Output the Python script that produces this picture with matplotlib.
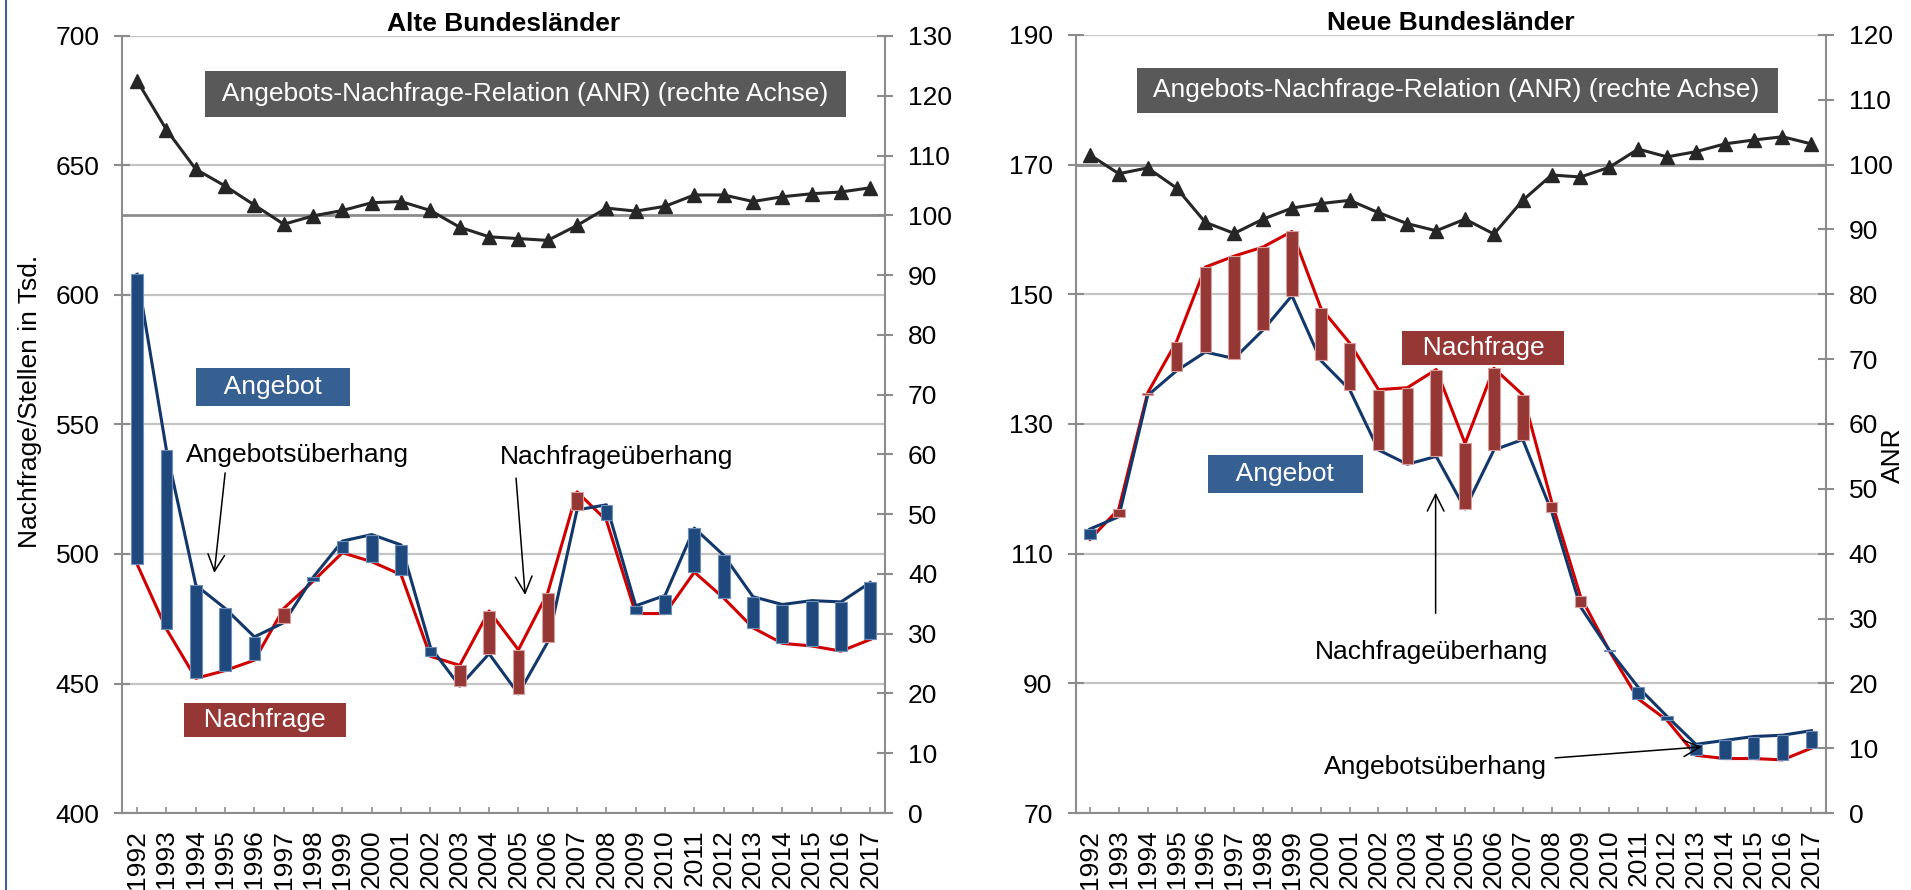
import matplotlib
matplotlib.use('Agg')
import matplotlib.pyplot as plt
from matplotlib.lines import Line2D

plt.rcParams['font.family'] = ['Liberation Sans', 'DejaVu Sans']

years = list(range(1992, 2018))

# Alte Bundeslaender (Tsd.)
angebot_alt = [608, 540, 488, 479, 468, 473.5, 491, 505, 507.5, 503.5, 464, 449, 461.5, 446,
               466, 517, 519, 480, 484, 510, 499.5, 483.5, 480.5, 482, 481.5, 489]
nachfrage_alt = [496, 471, 452, 455, 459, 479, 489.5, 500.5, 497, 492, 460.5, 457, 478, 463,
                 485, 524, 513, 477, 477, 493, 483, 471.5, 465.5, 464.5, 462.5, 467]
anr_alt = [122.5, 114.3, 107.7, 104.9, 101.7, 98.5, 99.9, 100.8, 102.1, 102.3, 100.8, 98.0, 96.4,
           96.1, 95.8, 98.3, 101.2, 100.7, 101.5, 103.4, 103.4, 102.3, 103.1, 103.6, 103.9, 104.6]

# Neue Bundeslaender (Tsd.)
angebot_neu = [113.8, 115.7, 134.4, 138.2, 141.1, 140.1, 144.5, 149.8, 139.8, 135.3, 126.0, 123.8,
               125.0, 116.9, 126.0, 127.6, 116.5, 101.8, 95.1, 89.4, 84.9, 80.6, 81.2, 81.8, 82.0, 82.7]
nachfrage_neu = [112.2, 116.9, 134.8, 142.7, 154.2, 155.9, 157.3, 159.7, 147.9, 142.5, 135.3, 135.6,
                 138.4, 127.0, 138.6, 134.5, 118.0, 103.4, 95.0, 87.6, 84.3, 78.9, 78.4, 78.4, 78.2, 80.0]
anr_neu = [101.5, 98.6, 99.5, 96.4, 91.1, 89.4, 91.6, 93.3, 94.0, 94.5, 92.6, 90.9, 89.8, 91.6,
           89.3, 94.5, 98.4, 98.1, 99.6, 102.4, 101.2, 102.0, 103.2, 103.8, 104.3, 103.2]

BLUE_LINE = '#12386B'
RED_LINE = '#D00000'
BLUE_BAR = '#1F497D'
RED_BAR = '#953735'
GRID = '#C4C4C4'
AXC = '#8C8C8C'
FS = 19

fig = plt.figure(figsize=(19.11, 8.90), dpi=100)
fig.patch.set_facecolor('white')
fig.add_artist(Line2D([6 / 1911, 6 / 1911], [0, 1], color='#41628C', lw=1.5))

ax_l = fig.add_axes([0.0641, 0.0865, 0.3990, 0.8731])
ax_r = fig.add_axes([0.5628, 0.0865, 0.3926, 0.8742])


def panel(ax, angebot, nachfrage, anr, ylim, ystep, anrmax, title):
    x = list(range(len(years)))
    ax.set_xlim(-0.5, len(years) - 0.5)
    ax.set_ylim(*ylim)
    ax.set_yticks(range(ylim[0], ylim[1] + 1, ystep))
    ax.set_xticks(x)
    ax.set_xticklabels([str(y) for y in years], rotation=90)
    ax.yaxis.grid(True, color=GRID, lw=1.6, zorder=0)
    ax.set_axisbelow(True)
    for s in ['top', 'right']:
        ax.spines[s].set_visible(False)
    for s in ['left', 'bottom']:
        ax.spines[s].set_color(AXC)
        ax.spines[s].set_linewidth(1.5)
    ax.tick_params(axis='y', direction='inout', length=11, width=1.5, color=AXC, pad=11, labelsize=FS)
    ax.tick_params(axis='x', direction='in', length=4, width=1.2, color=AXC, pad=12, labelsize=FS)

    ax.plot(x, nachfrage, color=RED_LINE, lw=2.2, zorder=3)
    ax.plot(x, angebot, color=BLUE_LINE, lw=2.2, zorder=3)
    lo = [min(a, n) for a, n in zip(angebot, nachfrage)]
    hi = [abs(a - n) for a, n in zip(angebot, nachfrage)]
    cols = [BLUE_BAR if a > n else RED_BAR for a, n in zip(angebot, nachfrage)]
    ecols = ['#6F8FB8' if a > n else '#D9A0A0' for a, n in zip(angebot, nachfrage)]
    ax.bar(x, hi, bottom=lo, width=0.4, color=cols, edgecolor=ecols, lw=0.8, zorder=4)

    ax2 = ax.twinx()
    ax2.set_ylim(0, anrmax)
    ax2.set_yticks(range(0, anrmax + 1, 10))
    for s in ['top', 'left', 'bottom']:
        ax2.spines[s].set_visible(False)
    ax2.spines['right'].set_color(AXC)
    ax2.spines['right'].set_linewidth(1.5)
    ax2.tick_params(axis='y', direction='inout', length=11, width=1.5, color=AXC, pad=11, labelsize=FS)
    ax2.axhline(100, color='#8C8C8C', lw=2, zorder=1)
    ax2.plot(x, anr, color='#262626', lw=2.2, marker='^', ms=9.5, zorder=5)

    ax.set_title(title, fontsize=FS, fontweight='bold', pad=2)
    return ax2


arrow = dict(arrowstyle='->,head_length=0.6,head_width=0.3', color='black', lw=1.1,
             mutation_scale=20, shrinkA=0, shrinkB=0)
box_anr = dict(boxstyle='square,pad=0.4', fc='#595959', ec='none')
box_ang = dict(boxstyle='square,pad=0.25', fc='#376092', ec='none')
box_nach = dict(boxstyle='square,pad=0.2', fc=RED_BAR, ec='none')
anr_txt = ' Angebots-Nachfrage-Relation (ANR) (rechte Achse) '

# left panel
ax2_l = panel(ax_l, angebot_alt, nachfrage_alt, anr_alt, (400, 700), 50, 130, 'Alte Bundesländer')
ax_l.set_ylabel('Nachfrage/Stellen in Tsd.', fontsize=FS)
ax_l.yaxis.set_label_coords(-0.106, 0.53)
ax_l.text(13.25, 677.6, anr_txt, color='white', fontsize=FS, ha='center', va='center', bbox=box_anr, zorder=6)
ax_l.text(4.64, 564.5, '   Angebot   ', color='white', fontsize=FS, ha='center', va='center', bbox=box_ang, zorder=6)
ax_l.text(4.36, 435.9, '  Nachfrage  ', color='white', fontsize=FS, ha='center', va='center', bbox=box_nach, zorder=6)
ax_l.text(5.45, 538.2, 'Angebotsüberhang', fontsize=FS, ha='center', va='center', zorder=6)
ax_l.annotate('', xy=(2.63, 492.7), xytext=(3.0, 531.3), arrowprops=arrow, zorder=6)
ax_l.text(16.35, 537.5, 'Nachfrageüberhang', fontsize=FS, ha='center', va='center', zorder=6)
ax_l.annotate('', xy=(13.23, 484.2), xytext=(12.92, 529.3), arrowprops=arrow, zorder=6)

# right panel
ax2_r = panel(ax_r, angebot_neu, nachfrage_neu, anr_neu, (70, 190), 20, 120, 'Neue Bundesländer')
ax2_r.set_ylabel('ANR', fontsize=FS)
ax2_r.yaxis.set_label_coords(1.073, 0.46)
ax_r.text(12.73, 181.5, anr_txt, color='white', fontsize=FS, ha='center', va='center', bbox=box_anr, zorder=6)
ax_r.text(6.78, 122.3, '   Angebot   ', color='white', fontsize=FS, ha='center', va='center', bbox=box_ang, zorder=6)
ax_r.text(13.63, 141.7, '  Nachfrage  ', color='white', fontsize=FS, ha='center', va='center', bbox=box_nach, zorder=6)
ax_r.text(11.84, 94.8, 'Nachfrageüberhang', fontsize=FS, ha='center', va='center', zorder=6)
ax_r.annotate('', xy=(11.98, 119.4), xytext=(11.98, 100.8), arrowprops=arrow, zorder=6)
ax_r.text(11.97, 77.1, 'Angebotsüberhang', fontsize=FS, ha='center', va='center', zorder=6)
ax_r.annotate('', xy=(21.2, 80.2), xytext=(16.12, 78.5), arrowprops=arrow, zorder=6)

fig.savefig('out.png', dpi=100, facecolor='white')
